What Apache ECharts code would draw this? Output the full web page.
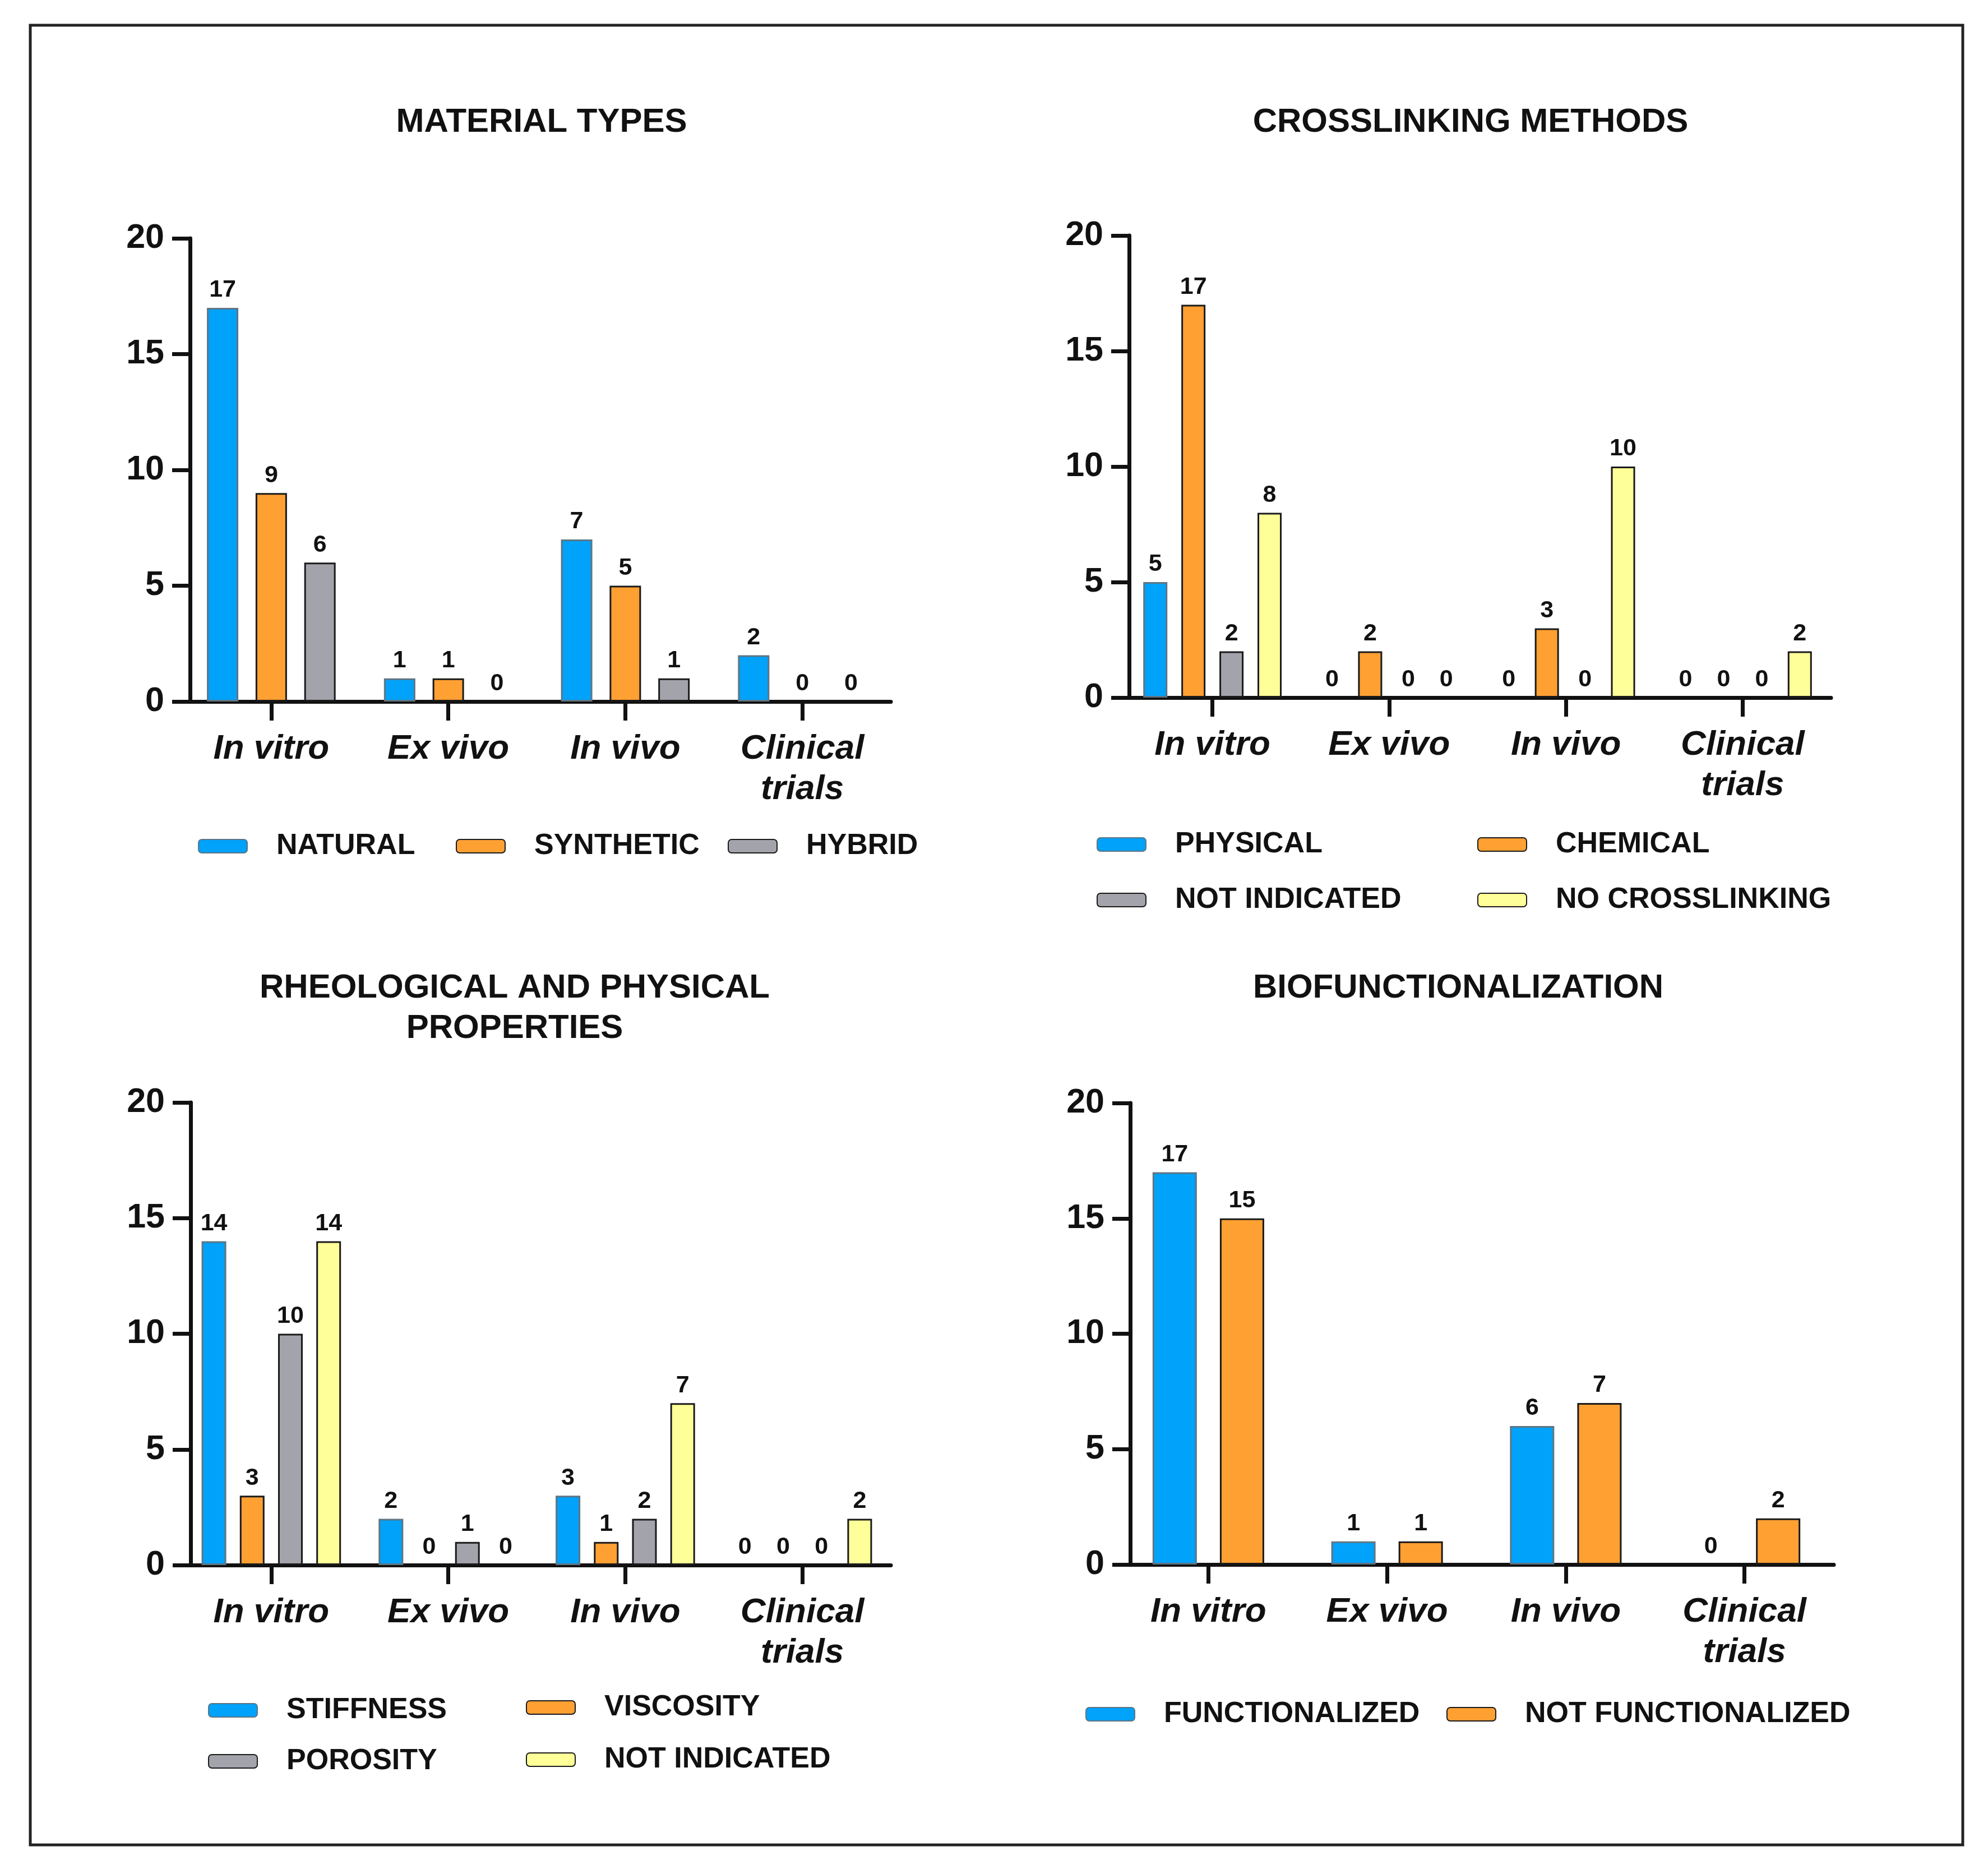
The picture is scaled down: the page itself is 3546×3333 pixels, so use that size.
<!DOCTYPE html>
<html><head><meta charset="utf-8">
<script src="https://cdn.jsdelivr.net/npm/echarts@6/dist/echarts.min.js"></script>
<style>html,body{margin:0;padding:0;background:#fff}#c{width:3546px;height:3333px}</style>
</head><body><div id="c"></div>
<script>
// ---------- data ----------
const categories = ['In vitro', 'Ex vivo', 'In vivo', 'Clinical\ntrials'];
const yMin = 0, yMax = 20, yStep = 5;

const materialNatural   = [17, 1, 7, 2];
const materialSynthetic = [9, 1, 5, 0];
const materialHybrid    = [6, 0, 1, 0];

const crossPhysical     = [5, 0, 0, 0];
const crossChemical     = [17, 2, 3, 0];
const crossNotIndicated = [2, 0, 0, 0];
const crossNone         = [8, 0, 10, 2];

const rheoStiffness     = [14, 2, 3, 0];
const rheoViscosity     = [3, 0, 1, 0];
const rheoPorosity      = [10, 1, 2, 0];
const rheoNotIndicated  = [14, 0, 7, 2];

const bioFunctionalized    = [17, 1, 6, 0];
const bioNotFunctionalized = [15, 1, 7, 2];

// ---------- styles / layout ----------
const FONT = '"Liberation Sans", Arial, Helvetica, sans-serif';
const INK = '#111111';
const FILL = { blue: '#00A2FA', orange: '#FFA033', grey: '#A3A3AB', yellow: '#FFFF99' };
const EDGE = { blue: '#5F7584', orange: '#1A1A1A', grey: '#1A1A1A', yellow: '#1A1A1A' };

const panels = [
  { key: 'm', title: 'MATERIAL TYPES', tx: 966, ty: 182,
    grid: { left: 326, top: 425, width: 1263, height: 826 }, yOff: -13, barWidth: 56, barGap: '55%',
    series: [['NATURAL', materialNatural, 'blue'], ['SYNTHETIC', materialSynthetic, 'orange'], ['HYBRID', materialHybrid, 'grey']],
    legend: [[353, 1509], [813, 1509], [1298, 1509]] },
  { key: 'c', title: 'CROSSLINKING METHODS', tx: 2623, ty: 182,
    grid: { left: 2005, top: 420, width: 1261, height: 824 }, yOff: -9, barWidth: 43, barGap: '58%',
    series: [['PHYSICAL', crossPhysical, 'blue'], ['CHEMICAL', crossChemical, 'orange'], ['NOT INDICATED', crossNotIndicated, 'grey'], ['NO CROSSLINKING', crossNone, 'yellow']],
    legend: [[1956, 1506], [2635, 1506], [1956, 1605], [2635, 1605]] },
  { key: 'r', title: 'RHEOLOGICAL AND PHYSICAL\nPROPERTIES', tx: 918, ty: 1726,
    grid: { left: 326, top: 1966, width: 1263, height: 825 }, yOff: -14, barWidth: 44, barGap: '55%',
    series: [['STIFFNESS', rheoStiffness, 'blue'], ['VISCOSITY', rheoViscosity, 'orange'], ['POROSITY', rheoPorosity, 'grey'], ['NOT INDICATED', rheoNotIndicated, 'yellow']],
    legend: [[371, 3050], [938, 3045], [371, 3141], [938, 3138]] },
  { key: 'b', title: 'BIOFUNCTIONALIZATION', tx: 2601, ty: 1726,
    grid: { left: 1996, top: 1967, width: 1275, height: 823 }, yOff: -20, barWidth: 79, barGap: '52%',
    series: [['FUNCTIONALIZED', bioFunctionalized, 'blue'], ['NOT FUNCTIONALIZED', bioNotFunctionalized, 'orange']],
    legend: [[1936, 3057], [2580, 3057]] }
];

const option = {
  backgroundColor: '#ffffff',
  animation: false,
  title: [], grid: [], xAxis: [], yAxis: [], series: [], legend: [],
  graphic: [{
    type: 'rect', shape: { x: 54, y: 45, width: 3447, height: 3245 },
    style: { fill: 'none', stroke: '#222222', lineWidth: 5 }, silent: true
  }]
};

panels.forEach((p, i) => {
  option.title.push({
    text: p.title, left: p.tx, top: p.ty, textAlign: 'center', padding: 0,
    textStyle: { fontFamily: FONT, fontSize: 60, fontWeight: 'bold', color: INK, lineHeight: 72 }
  });
  option.grid.push(Object.assign({ containLabel: false }, p.grid));
  option.xAxis.push({
    type: 'category', gridIndex: i, data: categories,
    axisLine: { show: true, lineStyle: { color: INK, width: 7 } },
    axisTick: { show: true, alignWithLabel: true, length: 34, lineStyle: { color: INK, width: 7 } },
    axisLabel: { margin: 49, fontFamily: FONT, fontSize: 62, fontWeight: 'bold', fontStyle: 'italic', color: INK, lineHeight: 72, interval: 0 },
    splitLine: { show: false }
  });
  option.yAxis.push({
    type: 'value', gridIndex: i, min: yMin, max: yMax, interval: yStep, offset: p.yOff,
    axisLine: { show: true, lineStyle: { color: INK, width: 7 } },
    axisTick: { show: true, length: 32, lineStyle: { color: INK, width: 7 } },
    axisLabel: { margin: 46, fontFamily: FONT, fontSize: 61, fontWeight: 'bold', color: INK },
    splitLine: { show: false }
  });
  p.series.forEach((s, j) => {
    const name = p.key + '|' + s[0];
    option.series.push({
      type: 'bar', name: name, xAxisIndex: i, yAxisIndex: i,
      data: s[1].map(v => v === 0 ? { value: 0, itemStyle: { borderWidth: 0 } } : v),
      barWidth: p.barWidth, barGap: p.barGap,
      itemStyle: { color: FILL[s[2]], borderColor: EDGE[s[2]], borderWidth: 3 },
      label: { show: true, position: 'top', distance: 10, fontFamily: FONT, fontSize: 43, fontWeight: 'bold', color: INK },
      silent: true
    });
    const pos = p.legend[j];
    option.legend.push({
      data: [name], left: pos[0], top: pos[1] - 30, padding: 0, selectedMode: false,
      itemWidth: 87, itemHeight: 24,
      formatter: n => n.split('|')[1],
      textStyle: { fontFamily: FONT, fontSize: 52, fontWeight: 'bold', color: INK, lineHeight: 60, padding: [0, 0, 0, 47] }
    });
  });
});

const chart = echarts.init(document.getElementById('c'), null, { renderer: 'canvas' });
chart.setOption(option);
</script>
</body></html>
